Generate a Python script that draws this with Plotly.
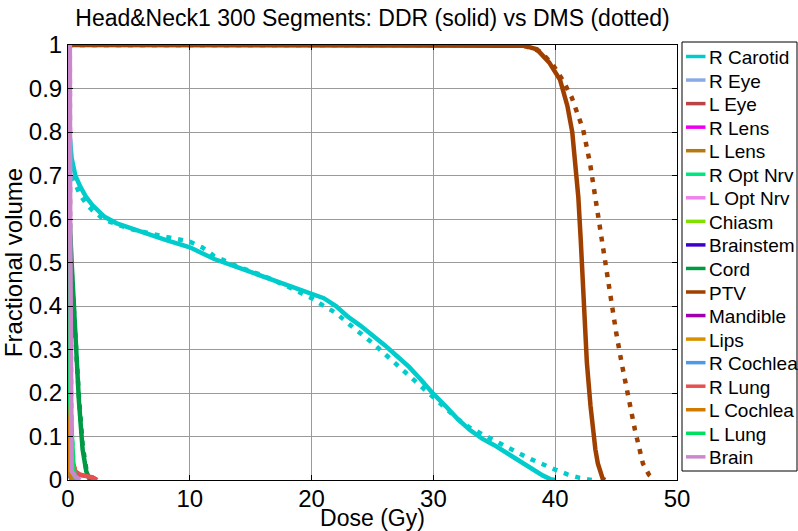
import plotly.graph_objects as go

# ---------------- data ----------------
structures = ["R Carotid", "R Eye", "L Eye", "R Lens", "L Lens", "R Opt Nrv",
              "L Opt Nrv", "Chiasm", "Brainstem", "Cord", "PTV", "Mandible",
              "Lips", "R Cochlea", "R Lung", "L Cochlea", "L Lung", "Brain"]
colors = ["#00cccc", "#8aaae6", "#bb4444", "#ee00ee", "#b87810", "#00e680",
          "#ee82ee", "#80e000", "#4000cc", "#009944", "#a04000", "#a000b0",
          "#d89000", "#4d99e6", "#e65050", "#d07a00", "#00e060", "#cc88cc"]

# R Carotid
carotid_ddr_dose = [0, 0.05, 0.3, 0.6, 1, 1.5, 2, 3, 4, 5, 6, 8, 10, 12, 14, 15, 17, 19, 20, 21,
                    22, 23, 24, 25, 26, 27, 28, 29, 30, 31, 32, 33, 34, 35, 36, 37, 38, 39, 39.6, 40]
carotid_ddr_vol = [1, 0.82, 0.74, 0.70, 0.675, 0.65, 0.632, 0.605, 0.59, 0.58, 0.57, 0.552, 0.535,
                   0.508, 0.488, 0.478, 0.46, 0.44, 0.428, 0.418, 0.40, 0.375, 0.355, 0.333, 0.31,
                   0.285, 0.26, 0.23, 0.198, 0.17, 0.14, 0.115, 0.095, 0.08, 0.062, 0.045, 0.028,
                   0.01, 0.002, 0]
carotid_dms_dose = [0, 0.05, 0.3, 0.6, 1, 1.5, 2, 3, 5, 7, 8, 9, 10, 11, 12, 14, 16, 18, 20, 21, 22,
                    23, 24, 25, 26, 27, 28, 29, 30, 31, 32, 33, 34, 35, 36, 37, 38, 39, 40, 41, 42,
                    43]
carotid_dms_vol = [1, 0.71, 0.70, 0.68, 0.655, 0.635, 0.62, 0.598, 0.578, 0.565, 0.56, 0.555, 0.548,
                   0.535, 0.515, 0.49, 0.47, 0.445, 0.418, 0.40, 0.384, 0.36, 0.338, 0.315, 0.29,
                   0.265, 0.24, 0.215, 0.19, 0.165, 0.14, 0.12, 0.105, 0.09, 0.075, 0.062, 0.048,
                   0.035, 0.024, 0.013, 0.005, 0]

# PTV
ptv_ddr_dose = [0, 36, 37.5, 38.5, 39.5, 40.4, 41, 41.4, 41.7, 41.9, 42.1, 42.3, 42.6, 42.9, 43.1,
                43.3, 43.5, 43.7, 43.9, 44.1]
ptv_ddr_vol = [1, 1, 0.998, 0.99, 0.96, 0.92, 0.86, 0.80, 0.72, 0.65, 0.55, 0.42, 0.27, 0.17,
               0.115, 0.07, 0.038, 0.015, 0.003, 0]
ptv_dms_dose = [0, 36, 37.6, 38.8, 39.8, 40.6, 41.35, 42.3, 42.86, 43.27, 43.68, 44.1, 44.5, 45.0,
                45.46, 46.0, 46.55, 47.2, 47.7, 48.2]
ptv_dms_vol = [1, 1, 0.997, 0.985, 0.955, 0.92, 0.88, 0.805, 0.728, 0.651, 0.575, 0.5, 0.421,
               0.34, 0.268, 0.192, 0.115, 0.038, 0.012, 0]

# Cord
cord_ddr_dose = [0, 0.05, 0.1, 0.3, 0.6, 0.9, 1.2, 1.5, 1.8]
cord_ddr_vol = [1, 0.75, 0.62, 0.5, 0.33, 0.18, 0.07, 0.02, 0]
cord_dms_dose = [0, 0.05, 0.1, 0.3, 0.6, 0.9, 1.2, 1.5, 1.9]
cord_dms_vol = [1, 0.72, 0.6, 0.48, 0.33, 0.19, 0.08, 0.025, 0]

# L Lung
llung_ddr_dose = [0, 0.05, 0.15, 0.3, 0.45, 0.6]
llung_ddr_vol = [1, 0.3, 0.2, 0.1, 0.03, 0]
llung_dms_dose = [0, 0.05, 0.15, 0.3, 0.45, 0.65]
llung_dms_vol = [1, 0.28, 0.19, 0.1, 0.03, 0]

# R Lung
rlung_dose = [0, 0.1, 0.3, 0.6, 1.0, 1.5, 2.0, 2.4]
rlung_vol = [1, 0.2, 0.05, 0.02, 0.012, 0.01, 0.006, 0]

# Brain
brain_dose = [0, 0.15, 0.18, 0.22, 0.3, 0.6, 1.0]
brain_vol = [1, 1, 0.6, 0.04, 0.02, 0.008, 0]

# small structures receiving (almost) no dose
small_dose = [0, 0.05, 0.1, 0.2, 0.3]
small_vol = [1, 0.3, 0.05, 0.012, 0]

ddr_data = {
    "R Carotid": (carotid_ddr_dose, carotid_ddr_vol),
    "PTV": (ptv_ddr_dose, ptv_ddr_vol),
    "Cord": (cord_ddr_dose, cord_ddr_vol),
    "L Lung": (llung_ddr_dose, llung_ddr_vol),
    "R Lung": (rlung_dose, rlung_vol),
    "Brain": (brain_dose, brain_vol),
}
dms_data = {
    "R Carotid": (carotid_dms_dose, carotid_dms_vol),
    "PTV": (ptv_dms_dose, ptv_dms_vol),
    "Cord": (cord_dms_dose, cord_dms_vol),
    "L Lung": (llung_dms_dose, llung_dms_vol),
    "R Lung": (rlung_dose, rlung_vol),
    "Brain": (brain_dose, brain_vol),
}

x_ticks = [0, 10, 20, 30, 40, 50]
y_ticks = [0, 0.1, 0.2, 0.3, 0.4, 0.5, 0.6, 0.7, 0.8, 0.9, 1]

# ---------------- layout constants (pixels) ----------------
W, H = 798, 531
ML, MR, MT, MB = 68, 121, 45, 51
PW, PH = W - ML - MR, H - MT - MB


def pxx(px):
    return (px - ML) / PW


def pxy(py):
    return (H - MB - py) / PH


# ---------------- figure ----------------
fig = go.Figure()
LW = 4.5
for name, col in zip(structures, colors):
    dx, dy = dms_data.get(name, (small_dose, small_vol))
    fig.add_trace(go.Scatter(x=dx, y=dy, mode="lines", name=name + " (DMS)", showlegend=False,
                             line=dict(color=col, width=LW, dash="5px,7px")))
for name, col in zip(structures, colors):
    sx, sy = ddr_data.get(name, (small_dose, small_vol))
    fig.add_trace(go.Scatter(x=sx, y=sy, mode="lines", name=name, showlegend=False,
                             line=dict(color=col, width=LW)))

FONT = "Liberation Sans, Arial, sans-serif"

# legend box drawn in the style of the original (MATLAB) legend
shapes = [dict(type="rect", xref="paper", yref="paper",
               x0=pxx(682), x1=pxx(797), y0=pxy(471), y1=pxy(42),
               line=dict(color="black", width=1), fillcolor="white", layer="above")]
annotations = []
ROW0, ROWGAP = 56.5, 23.55
for i, (name, col) in enumerate(zip(structures, colors)):
    yc = ROW0 + i * ROWGAP
    shapes.append(dict(type="line", xref="paper", yref="paper",
                       x0=pxx(686), x1=pxx(705.5), y0=pxy(yc), y1=pxy(yc),
                       line=dict(color=col, width=3.5), layer="above"))
    annotations.append(dict(text=name, xref="paper", yref="paper", x=pxx(707), y=pxy(yc + 1),
                            xanchor="left", yanchor="middle", showarrow=False,
                            font=dict(family=FONT, size=19, color="black")))

axis_common = dict(showline=True, linecolor="black", linewidth=1, mirror="ticks",
                   ticks="inside", ticklen=5, tickcolor="black",
                   showgrid=True, gridcolor="#9a9a9a", gridwidth=1, zeroline=False,
                   tickfont=dict(family=FONT, size=24, color="black"))
fig.update_layout(
    width=W, height=H,
    margin=dict(l=ML, r=MR, t=MT, b=MB, autoexpand=False),
    paper_bgcolor="white", plot_bgcolor="white",
    title=dict(text="Head&Neck1 300 Segments: DDR (solid) vs DMS (dotted)",
               x=0.5, xref="paper", xanchor="center", y=1 - 18 / H, yanchor="middle",
               font=dict(family=FONT, size=23, color="black")),
    xaxis=dict(range=[0, 50], tickvals=x_ticks, ticktext=[str(v) for v in x_ticks],
               ticklabelstandoff=-3,
               title=dict(text="Dose (Gy)", standoff=4,
                          font=dict(family=FONT, size=23, color="black")),
               **axis_common),
    yaxis=dict(range=[0, 1], tickvals=y_ticks, ticktext=[("%g" % v) for v in y_ticks],
               title=dict(text="Fractional volume", standoff=2,
                          font=dict(family=FONT, size=24, color="black")),
               **axis_common),
    shapes=shapes,
    annotations=annotations,
    showlegend=False,
)
fig.write_html("out.html")
